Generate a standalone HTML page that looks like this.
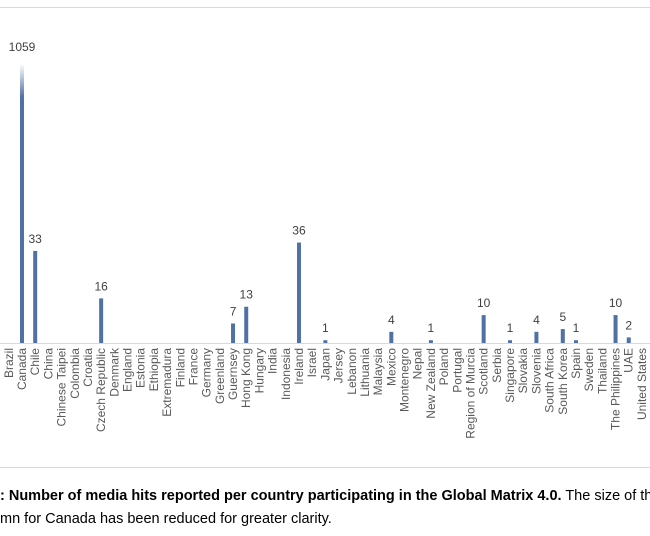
<!DOCTYPE html>
<html><head><style>
html,body{margin:0;padding:0;background:#fff;}
svg{display:block;}
text{font-family:"Liberation Sans",sans-serif;}
</style></head><body>
<svg width="650" height="536" viewBox="0 0 650 536" xmlns="http://www.w3.org/2000/svg">
<defs>
<linearGradient id="g" x1="0" y1="0" x2="0" y2="1">
<stop offset="0" stop-color="#fff"/>
<stop offset="0.12" stop-color="#4f71a4"/>
<stop offset="1" stop-color="#4f71a4"/>
</linearGradient>
</defs>
<line x1="0" y1="7.5" x2="650" y2="7.5" stroke="#d9d9d9"/>
<line x1="0" y1="467.5" x2="650" y2="467.5" stroke="#d9d9d9"/>
<line x1="0" y1="343.5" x2="650" y2="343.5" stroke="#d9d9d9"/>
<g id="bars"></g>
<g id="labels" font-size="12" fill="#595959"></g>
<g id="vals" font-size="12" fill="#404040" text-anchor="middle"></g>
<text x="0" y="500" font-size="14.5" fill="#000"><tspan font-weight="bold">: Number of media hits reported per country participating in the Global Matrix 4.0.</tspan> The size of the</text>
<text x="0" y="523" font-size="14.5" fill="#000">mn for Canada has been reduced for greater clarity.</text>
</svg>
<script>
const names=["Botswana","Brazil","Canada","Chile","China","Chinese Taipei","Colombia","Croatia","Czech Republic","Denmark","England","Estonia","Ethiopia","Extremadura","Finland","France","Germany","Greenland","Guernsey","Hong Kong","Hungary","India","Indonesia","Ireland","Israel","Japan","Jersey","Lebanon","Lithuania","Malaysia","Mexico","Montenegro","Nepal","New Zealand","Poland","Portugal","Region of Murcia","Scotland","Serbia","Singapore","Slovakia","Slovenia","South Africa","South Korea","Spain","Sweden","Thailand","The Philippines","UAE","United States"];
const vals={"Chile":33,"Czech Republic":16,"Guernsey":7,"Hong Kong":13,"Ireland":36,"Japan":1,"Mexico":4,"New Zealand":1,"Scotland":10,"Singapore":1,"Slovenia":4,"South Korea":5,"Spain":1,"The Philippines":10,"UAE":2};
const NS="http://www.w3.org/2000/svg";
const B=document.getElementById("bars"),L=document.getElementById("labels"),V=document.getElementById("vals");
const step=13.19, x0=22-2*step, base=343, k=2.79;
names.forEach((n,i)=>{
 const x=x0+i*step;
 const t=document.createElementNS(NS,"text");
 t.setAttribute("transform",`translate(${x+4},348) rotate(-90)`);
 t.setAttribute("text-anchor","end");t.textContent=n;L.appendChild(t);
 let h=null,lab=null;
 if(n==="Canada"){h=base-64;lab="1059";}
 else if(vals[n]!==undefined){h=Math.max(vals[n]*k,2);lab=String(vals[n]);}
 if(h!==null){
  const r=document.createElementNS(NS,"rect");
  r.setAttribute("x",x-2);r.setAttribute("y",base-h);r.setAttribute("width",4);r.setAttribute("height",h);
  r.setAttribute("fill",n==="Canada"?"url(#g)":"#4f71a4");B.appendChild(r);
  const v=document.createElementNS(NS,"text");
  v.setAttribute("x",x);v.setAttribute("y",n==="Canada"?51:base-h-8);v.textContent=lab;V.appendChild(v);
 }
});
</script>
</body></html>
